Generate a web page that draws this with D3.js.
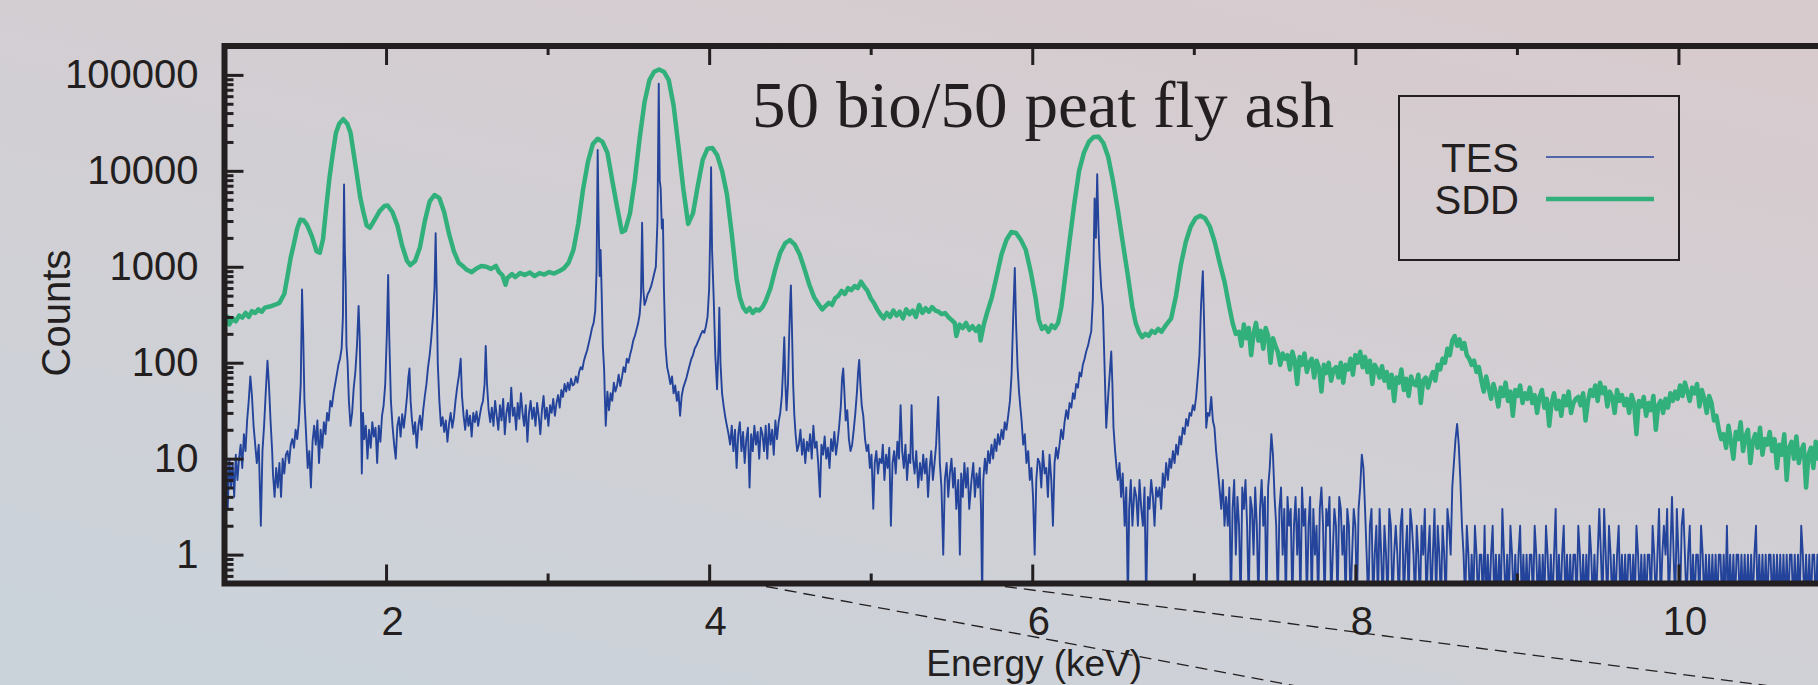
<!DOCTYPE html>
<html>
<head>
<meta charset="utf-8">
<script src="https://d3js.org/d3.v7.min.js"></script>
<style>
  body { margin: 0; overflow: hidden; }
</style>
</head>
<body>
<div id="chart"></div>
<script>

var width = 1818;
var height = 685;

// TES spectrum, [keV, counts]
var tesLow = [
  [1.000,6],[1.010,12],[1.020,3],[1.030,10],[1.040,5],[1.050,9],[1.060,4],[1.070,11],[1.080,6],[1.090,10],
  [1.100,14],[1.110,8],[1.120,18],[1.130,12],[1.140,25],[1.150,40],[1.160,72],[1.170,45],[1.180,22],[1.190,14],
  [1.200,9],[1.212,14],[1.225,2],[1.235,12],[1.245,22],[1.255,48],[1.266,105],[1.275,60],[1.285,25],[1.295,12],
  [1.300,7],[1.310,4],[1.320,8],[1.330,5],[1.340,9],[1.350,4],[1.360,10],[1.370,7],[1.380,11],[1.390,12],
  [1.400,9],[1.410,14],[1.420,16],[1.430,13],[1.440,20],[1.450,16],[1.460,24],[1.472,60],[1.480,580],[1.487,200],
  [1.495,40],[1.505,18],[1.515,8],[1.525,12],[1.535,5],[1.545,15],[1.555,22],[1.565,14],[1.575,25],[1.585,9],
  [1.595,20],[1.605,13],[1.615,24],[1.625,18],[1.635,30],[1.645,25],[1.655,40],[1.665,35],[1.675,48],[1.685,60],
  [1.695,75],[1.705,95],[1.715,110],[1.725,140],[1.733,300],[1.740,7200],[1.745,1500],[1.750,700],[1.755,150],[1.762,100],
  [1.770,40],[1.780,22],[1.790,30],[1.800,55],[1.810,80],[1.820,150],[1.830,390],[1.837,180],[1.843,50],[1.850,7],
  [1.857,30],[1.865,16],[1.875,22],[1.885,10],[1.895,20],[1.905,13],[1.915,24],[1.925,17],[1.935,21],[1.945,9],
  [1.955,22],[1.965,15],[1.975,28],[1.985,36],[1.995,60],[2.005,200],[2.013,820],[2.020,180],[2.030,40],[2.040,22],
  [2.050,14],[2.060,10],[2.070,22],[2.080,27],[2.090,17],[2.100,29],[2.110,21],[2.120,30],[2.130,45],[2.138,70],
  [2.145,87],[2.152,40],[2.160,26],[2.170,18],[2.180,24],[2.190,13],[2.200,22],[2.210,28],[2.220,20],[2.230,32],
  [2.240,45],[2.250,60],[2.260,90],[2.270,120],[2.280,180],[2.290,300],[2.300,600],[2.307,2240],[2.314,500],[2.320,100],
  [2.330,40],[2.340,22],[2.350,27],[2.360,19],[2.370,25],[2.380,15],[2.390,23],[2.400,30],[2.410,21],[2.420,27],
  [2.430,40],[2.440,55],[2.452,75],[2.462,110],[2.470,45],[2.480,28],[2.490,20],[2.500,32],[2.510,22],[2.520,28],
  [2.530,17],[2.540,30],[2.550,24],[2.560,31],[2.570,22],[2.580,28],[2.590,35],[2.600,40],[2.610,60],[2.617,150],
  [2.625,60],[2.635,32],[2.645,24],[2.655,34],[2.665,22],[2.675,40],[2.685,28],[2.695,20],[2.705,36],[2.715,25],
  [2.725,42],[2.735,18],[2.745,30],[2.755,38],[2.765,24],[2.775,55],[2.785,28],[2.795,34],[2.805,20],[2.815,38],
  [2.825,26],[2.835,48],[2.845,30],[2.855,22],[2.865,36],[2.875,15],[2.885,30],[2.895,40],[2.905,26],[2.915,34],
  [2.925,22],[2.935,38],[2.945,28],[2.955,18],[2.965,32],[2.975,45],[2.985,26],[2.995,34],[3.005,22],[3.015,36],
  [3.025,30],[3.035,42],[3.045,28],[3.055,38],[3.065,46],[3.075,34],[3.085,52],[3.095,44],[3.105,60],[3.115,50],
  [3.125,62],[3.135,52],[3.145,68],[3.155,58],[3.165,60],[3.175,72],[3.185,62],[3.195,80],[3.205,90],[3.215,85],
  [3.225,105],[3.235,120],[3.245,135],[3.255,160],[3.265,190],[3.275,230],[3.285,260],[3.295,350],[3.303,900],[3.310,16500],
  [3.316,3000],[3.322,800],[3.328,1500],[3.334,600],[3.342,150],[3.350,85],[3.355,40],[3.360,22],[3.370,50],[3.380,32],
  [3.390,48],[3.400,40],[3.410,62],[3.420,50],[3.430,58],[3.440,75],[3.450,57],[3.460,70],[3.470,90],[3.480,80],
  [3.490,110],[3.500,100],[3.510,120],[3.520,140],[3.530,170],[3.540,190],[3.550,220],[3.560,256],[3.570,320],[3.578,500],
  [3.585,2880],[3.592,600],[3.600,400],[3.610,450],[3.620,520],[3.630,560],[3.640,620],[3.650,720],[3.660,850],[3.670,1000],
  [3.680,3000],[3.688,80700],[3.694,8000],[3.700,6500],[3.707,2500],[3.714,3120],[3.720,600],[3.729,152],[3.740,90],[3.750,75],
  [3.760,60],[3.770,72],[3.780,48],[3.790,58],[3.800,40],[3.810,50],[3.820,28],[3.830,45],[3.840,55],[3.850,62],
  [3.860,70],[3.870,82],[3.880,95],[3.890,110],[3.900,120],[3.910,140],[3.920,150],[3.930,165],[3.940,180],[3.950,200],
  [3.960,215],[3.970,205],[3.980,240],[3.990,300],[4.000,590],[4.006,2000],[4.012,10900],[4.018,1500],[4.028,480],[4.038,120],
  [4.049,53],[4.058,150],[4.063,375],[4.070,100],[4.080,48],[4.090,35],[4.100,27],[4.110,22],[4.120,18],[4.130,14],
  [4.140,22],[4.150,12],[4.160,20],[4.170,8],[4.180,18],[4.190,24],[4.200,12],[4.210,19],[4.220,9],[4.230,16],
  [4.240,21],[4.250,5],[4.260,18],[4.270,12],[4.280,22],[4.290,14],[4.300,19],[4.310,10],[4.320,21],[4.330,18],
  [4.340,12],[4.350,22],[4.360,10],[4.370,23],[4.380,14],[4.390,20],[4.400,11],[4.410,25],[4.420,16],[4.430,24],
  [4.440,30],[4.450,45],[4.458,90],[4.465,184],[4.472,60],[4.479,32],[4.488,60],[4.495,180],[4.501,400],[4.506,640],
  [4.512,250],[4.520,60],[4.527,29],[4.535,18],[4.545,12],[4.555,14],[4.565,20],[4.575,11],[4.585,16],[4.595,9],
  [4.605,15],[4.615,12],[4.625,18],[4.635,10],[4.645,22],[4.655,13],[4.665,15],[4.675,9],[4.686,4],[4.695,14],
  [4.705,11],[4.715,17],[4.725,10],[4.735,13],[4.745,8],[4.755,16],[4.765,12],[4.775,19],[4.785,11],[4.795,15],
  [4.805,22],[4.815,35],[4.823,70],[4.830,87],[4.837,50],[4.845,25],[4.855,32],[4.865,16],[4.875,12],[4.885,14],
  [4.895,20],[4.905,30],[4.915,50],[4.922,80],[4.929,107],[4.936,60],[4.945,35],[4.954,28],[4.965,16],[4.975,12],
  [4.985,14],[4.995,8],[5.005,11],[5.016,3],[5.025,9],[5.035,12],[5.045,7],[5.055,10],[5.067,9],[5.075,14],
  [5.085,6],[5.095,11],[5.105,8],[5.115,13],[5.125,2],[5.135,9],[5.145,12],[5.155,7],[5.165,15],[5.175,10],
  [5.185,36],[5.195,12],[5.205,8],[5.215,14],[5.225,6],[5.235,11],[5.245,9],[5.253,36],[5.262,10],[5.272,7],
  [5.282,12],[5.294,5],[5.305,9],[5.315,6],[5.325,11],[5.335,7],[5.345,10],[5.355,4],[5.365,8],[5.375,12],
  [5.385,6],[5.395,9],[5.405,14],[5.418,44],[5.428,9],[5.438,5],[5.449,1],[5.459,6],[5.470,9],[5.480,4],
  [5.490,7],[5.500,10],[5.510,5],[5.520,8],[5.530,3],[5.542,6],[5.552,1],[5.560,7],[5.570,4],[5.580,9],
  [5.590,5],[5.600,8],[5.610,3],[5.624,6],[5.635,9],[5.645,4],[5.655,7],[5.665,5],[5.675,8],[5.683,3],
  [5.690,0],[5.697,6],[5.707,10],[5.717,7],[5.727,12],[5.737,9],[5.748,14],[5.758,10],[5.768,16],[5.778,12],
  [5.788,18],[5.798,14],[5.810,20],[5.820,16],[5.830,24],[5.840,20],[5.851,28],[5.862,40],[5.872,75],[5.882,300],
  [5.892,973],[5.900,250],[5.909,91],[5.918,50],[5.926,35],[5.934,25],[5.944,14],[5.954,18],[5.964,9],[5.975,12],
  [5.985,6],[5.995,8],[6.005,4],[6.015,1],[6.025,6],[6.035,10],[6.046,9],[6.056,5],[6.066,12],[6.077,7],
  [6.087,8],[6.097,4],[6.107,11],[6.118,6],[6.128,2],[6.138,9],[6.148,13],[6.158,10],[6.169,14],[6.179,20],
  [6.190,16],[6.200,24],[6.211,32],[6.221,26],[6.231,38],[6.242,34],[6.252,48],[6.262,42],[6.272,60],[6.283,55],
  [6.293,79],[6.303,72],[6.313,95],[6.324,110],[6.334,131],[6.345,150],[6.355,180],[6.365,211],[6.375,450],[6.386,5150],
  [6.394,2000],[6.402,9230],[6.410,2500],[6.417,1200],[6.427,600],[6.437,389],[6.447,100],[6.458,21],[6.468,40],[6.478,70],
  [6.489,131],[6.496,60],[6.503,21],[6.513,12],[6.522,8],[6.530,6],[6.540,9],[6.550,4],[6.560,7],[6.572,2],
  [6.582,5],[6.592,0],[6.600,3],[6.610,6],[6.620,2],[6.633,5],[6.644,4],[6.654,2],[6.664,6],[6.675,3],
  [6.685,2],[6.695,5],[6.705,0],[6.716,4],[6.726,3],[6.736,6],[6.747,4],[6.757,2],[6.767,5],[6.778,4],
  [6.788,5],[6.798,3],[6.808,7],[6.819,5],[6.829,9],[6.840,6],[6.850,10],[6.860,8],[6.871,12],[6.881,9],
  [6.891,14],[6.901,11],[6.912,17],[6.922,14],[6.932,21],[6.943,18],[6.953,26],[6.963,22],[6.974,30],[6.984,28],
  [6.994,36],[7.004,32],[7.015,45],[7.025,73],[7.035,120],[7.045,400],[7.056,900],[7.063,300],[7.070,80],[7.077,21],
  [7.087,30],[7.097,28],[7.108,44],[7.118,25],[7.128,21],[7.138,12],[7.148,8],[7.159,5],[7.170,3],[7.180,6],
  [7.190,2]
];

// TES from 7.2 keV on: counts per 10 eV channel
var tesHighStart = 7.2;
var tesHighStep = 0.01;
var tesHighCounts = [
  4,2,5,0,3,6,1,4,2,0,5,3,6,2,0,4,3,1,5,2,
  0,3,6,2,4,0,5,8,18,11,4,2,0,3,5,1,3,0,4,2,
  3,0,2,4,1,3,0,5,2,3,0,2,4,0,3,1,2,0,3,5,
  2,0,3,2,4,0,1,3,2,0,4,3,1,2,0,3,2,0,1,3,
  2,0,3,5,11,8,3,1,0,2,3,0,1,2,0,3,1,0,2,1,
  0,3,2,0,1,2,1,0,2,3,0,1,2,0,3,2,1,0,2,1,
  0,2,1,3,0,1,2,0,1,3,0,2,1,0,2,1,0,3,2,1,
  5,9,16,23,14,6,2,1,0,2,1,0,1,0,2,1,0,1,1,0,
  2,0,1,0,1,2,0,1,0,1,0,3,1,0,1,0,2,1,0,1,
  0,1,2,0,1,0,1,0,1,1,0,2,1,0,1,0,1,0,2,1,
  0,1,0,1,3,0,1,0,1,2,0,1,0,1,0,1,1,0,2,1,
  0,1,0,1,0,2,1,0,1,0,1,3,1,0,3,1,0,2,1,0,
  1,0,1,2,0,1,0,1,0,1,1,0,1,0,2,1,0,1,0,1,
  0,1,1,0,2,1,0,1,3,0,1,2,1,3,0,1,4,1,0,3,
  1,0,2,3,1,0,1,2,0,1,0,1,1,0,2,1,0,1,0,1,
  0,1,0,1,0,1,1,0,1,0,2,0,1,0,1,0,1,1,0,1,
  0,1,0,1,0,1,0,1,2,0,1,0,1,0,1,0,1,1,0,1,
  0,1,0,1,0,1,0,1,0,1,1,0,1,0,1,0,2,1,0,1,
  0,1,0,1,1,0,1,0,1,0,1,0,1,1,0,1,0,1,0,1,
  0
];

// SDD spectrum, [keV, counts]
var sddLow = [
  [1.00,260],[1.02,300],[1.03,250],[1.05,290],[1.07,270],[1.09,310],[1.11,295],[1.13,330],[1.15,300],[1.17,345],
  [1.19,330],[1.21,360],[1.23,340],[1.25,375],[1.28,385],[1.31,400],[1.34,420],[1.37,520],[1.39,800],[1.41,1250],
  [1.43,1750],[1.45,2500],[1.47,3100],[1.49,3050],[1.51,2750],[1.54,2100],[1.57,1450],[1.59,1400],[1.61,1950],[1.63,4200],
  [1.65,8500],[1.67,15000],[1.69,25000],[1.71,31000],[1.735,34500],[1.76,31000],[1.78,25000],[1.80,15000],[1.82,9000],[1.84,5300],
  [1.86,3700],[1.88,2700],[1.90,2550],[1.93,3100],[1.96,3800],[1.99,4300],[2.01,4350],[2.04,3700],[2.07,2700],[2.10,1650],
  [2.13,1150],[2.15,1040],[2.18,1150],[2.21,1600],[2.24,3000],[2.27,4800],[2.30,5600],[2.33,5200],[2.36,3700],[2.39,2200],
  [2.42,1450],[2.45,1100],[2.48,1000],[2.50,930],[2.53,880],[2.56,960],[2.59,1020],[2.62,1000],[2.65,950],[2.68,1020],
  [2.70,880],[2.72,820],[2.74,650],[2.75,760],[2.78,840],[2.80,780],[2.83,860],[2.86,820],[2.89,870],[2.92,800],
  [2.95,860],[2.98,830],[3.01,880],[3.04,850],[3.07,900],[3.10,960],[3.13,1100],[3.16,1500],[3.19,2800],[3.22,6500],
  [3.25,12500],[3.28,19000],[3.31,21600],[3.34,20000],[3.37,15500],[3.40,8000],[3.43,4200],[3.46,2300],[3.48,2400],[3.51,3600],
  [3.54,8000],[3.57,22000],[3.60,52000],[3.63,88000],[3.66,108000],[3.69,114000],[3.72,108000],[3.75,88000],[3.78,48000],[3.81,18000],
  [3.84,6500],[3.87,2800],[3.90,3600],[3.93,7000],[3.96,13000],[3.99,17000],[4.02,17300],[4.05,14500],[4.08,10000],[4.11,5700],
  [4.14,2200],[4.17,750],[4.19,480],[4.21,380],[4.23,340],[4.25,370],[4.27,330],[4.29,360],[4.31,350],[4.33,380],
  [4.35,440],[4.38,600],[4.41,950],[4.44,1400],[4.47,1750],[4.50,1900],[4.53,1700],[4.56,1350],[4.59,950],[4.62,650],
  [4.65,480],[4.68,400],[4.70,360],[4.72,390],[4.74,420],[4.76,400],[4.78,470],[4.80,500],[4.82,560],[4.84,520],
  [4.86,600],[4.88,570],[4.90,630],[4.92,600],[4.94,700],[4.96,620],[4.98,560],[5.00,470],[5.02,420],[5.04,360],
  [5.06,320],[5.08,290],[5.10,330],[5.12,300],[5.14,350],[5.16,310],[5.18,340],[5.20,290],[5.22,360],[5.24,320],
  [5.26,350],[5.28,300],[5.30,400],[5.32,330],[5.34,370],[5.36,340],[5.38,380],[5.40,350],[5.42,340],[5.44,320],
  [5.46,330],[5.48,300],[5.50,280],[5.52,260],[5.53,190],[5.55,250],[5.57,230],[5.59,260],[5.61,220],[5.63,240],
  [5.65,215],[5.67,240],[5.68,170],[5.70,250],[5.72,330],[5.75,480],[5.78,800],[5.81,1350],[5.84,1900],[5.87,2300],
  [5.90,2250],[5.93,1900],[5.96,1500],[5.99,900],[6.02,480],[6.04,280],[6.06,225],[6.08,240],[6.10,210],[6.12,245],
  [6.14,230],[6.16,260],[6.18,380],[6.20,700],[6.23,1800],[6.26,4500],[6.29,10000],[6.32,15500],[6.35,20000],[6.38,22500],
  [6.41,22700],[6.44,19500],[6.47,14000],[6.50,7800],[6.53,3900],[6.56,1800],[6.59,850],[6.62,380],[6.64,260],[6.66,210],
  [6.68,185],[6.70,200],[6.72,190],[6.74,215],[6.76,205],[6.78,225],[6.80,210],[6.83,250],[6.86,290],[6.89,500],
  [6.92,1050],[6.95,1800],[6.98,2600],[7.01,3200],[7.04,3400],[7.07,3200],[7.10,2600],[7.13,1800],[7.16,1100],[7.19,700],
  [7.22,380],[7.24,260],[7.26,200]
];

// SDD from 7.28 keV on: counts per 15 eV channel
var sddHighStart = 7.28;
var sddHighStep = 0.015;
var sddHighCounts = [
  210,150,250,180,230,120,200,260,170,215,140,230,190,100,180,150,130,95,125,110,
  120,85,130,105,60,115,95,125,80,100,110,70,105,88,50,95,78,100,65,85,
  90,70,100,62,95,85,110,75,120,100,130,90,115,80,105,60,95,85,70,92,
  65,80,55,75,40,70,62,85,52,68,45,72,60,58,75,38,65,70,55,68,
  80,65,95,85,110,100,140,120,170,190,150,175,140,160,120,110,95,105,80,90,
  65,50,72,55,42,60,48,35,55,45,62,40,50,28,52,45,58,38,48,42,
  55,38,46,30,44,52,34,42,22,38,48,33,40,28,45,36,50,30,38,42,
  44,36,48,25,40,52,45,58,40,62,48,55,35,50,44,30,52,40,46,36,
  42,30,46,38,18,40,35,44,28,38,32,45,20,36,40,30,42,34,48,40,
  50,42,58,45,62,50,40,55,48,60,35,52,42,30,45,38,25,28,20,16,
  18,13,22,15,10,19,16,24,12,17,20,9,15,18,13,21,11,16,14,19,
  12,16,8,14,11,18,6,13,15,10,17,9,12,14,5,11,13,8,15,10,
  11,7,13,4,10,8,12,6,9
];

var xTicks = [2, 4, 6, 8, 10];
var yTicks = [1, 10, 100, 1000, 10000, 100000];
var seriesNames = ["TES", "SDD"];
var seriesColors = ["#24449b", "#31b07b"];
var titleText = "50 bio/50 peat fly ash";

var tes = tesLow.concat(tesHighCounts.map((c, i) => [tesHighStart + i * tesHighStep, c]));
var sdd = sddLow.concat(sddHighCounts.map((c, i) => [sddHighStart + i * sddHighStep, c]));

var ink = "#231f20";
var sansFont = "'Liberation Sans', Arial, sans-serif";

var x = d3.scaleLinear().domain([1, 11]).range([224.5, 1840]);
var y = d3.scaleLog().domain([0.5, 2e5]).range([583.5, 46]);

var svg = d3.select("#chart").append("svg")
  .attr("width", width)
  .attr("height", height);

var defs = svg.append("defs");
var grad = defs.append("linearGradient")
  .attr("id", "bg")
  .attr("x1", "80%").attr("y1", "0%")
  .attr("x2", "20%").attr("y2", "100%");
grad.append("stop").attr("offset", "0%").attr("stop-color", "#d7cbce");
grad.append("stop").attr("offset", "100%").attr("stop-color", "#cbd3da");

defs.append("clipPath").attr("id", "plotClip")
  .append("rect")
  .attr("x", x(1))
  .attr("y", y(2e5))
  .attr("width", x(11) - x(1))
  .attr("height", y(0.5) - y(2e5));

svg.append("rect")
  .attr("width", width)
  .attr("height", height)
  .attr("fill", "url(#bg)");

// data
var line = d3.line()
  .x(d => x(d[0]))
  .y(d => y(Math.max(d[1], 0.3)));

var gData = svg.append("g").attr("clip-path", "url(#plotClip)");

gData.append("path")
  .datum(tes)
  .attr("fill", "none")
  .attr("stroke", seriesColors[0])
  .attr("stroke-width", 1.9)
  .attr("stroke-linejoin", "round")
  .attr("d", line);

gData.append("path")
  .datum(sdd)
  .attr("fill", "none")
  .attr("stroke", seriesColors[1])
  .attr("stroke-width", 4.5)
  .attr("stroke-linejoin", "round")
  .attr("d", line);

// axes
var yMinor = y.ticks().filter(v => yTicks.indexOf(v) < 0);
var xMinor = x.ticks(10).filter(v => xTicks.indexOf(v) < 0 && v > 1 && v < 11);

function styleAxis(g) {
  g.select(".domain").remove();
  g.attr("color", ink)
    .attr("font-family", sansFont)
    .attr("font-size", 40);
  g.selectAll("line").attr("stroke-width", 3);
}

svg.append("g")
  .attr("transform", `translate(${x(1)},0)`)
  .call(d3.axisLeft(y).tickValues(yTicks).tickSize(-19).tickPadding(26).tickFormat(d3.format("d")))
  .call(styleAxis);

svg.append("g")
  .attr("transform", `translate(${x(1)},0)`)
  .call(d3.axisLeft(y).tickValues(yMinor).tickSize(-9).tickFormat(""))
  .call(styleAxis);

svg.append("g")
  .attr("transform", `translate(0,${y(0.5)})`)
  .call(d3.axisBottom(x).tickValues(xTicks).tickSize(-19).tickPadding(23).tickFormat(d3.format("d")))
  .call(styleAxis)
  .call(g => g.selectAll("text").attr("dx", 6));

svg.append("g")
  .attr("transform", `translate(0,${y(0.5)})`)
  .call(d3.axisBottom(x).tickValues(xMinor).tickSize(-10).tickFormat(""))
  .call(styleAxis);

svg.append("g")
  .attr("transform", `translate(0,${y(2e5)})`)
  .call(d3.axisTop(x).tickValues(xTicks).tickSize(-19).tickFormat(""))
  .call(styleAxis);

svg.append("g")
  .attr("transform", `translate(0,${y(2e5)})`)
  .call(d3.axisTop(x).tickValues(xMinor).tickSize(-9).tickFormat(""))
  .call(styleAxis);

// frame
svg.append("rect")
  .attr("x", x(1))
  .attr("y", y(2e5))
  .attr("width", x(11) - x(1))
  .attr("height", y(0.5) - y(2e5))
  .attr("fill", "none")
  .attr("stroke", ink)
  .attr("stroke-width", 6);

// axis titles
svg.append("text")
  .attr("transform", "translate(70,313) rotate(-90)")
  .attr("text-anchor", "middle")
  .attr("font-family", sansFont)
  .attr("font-size", 40)
  .attr("fill", ink)
  .text("Counts");

svg.append("text")
  .attr("x", x(6) + 2)
  .attr("y", 676)
  .attr("text-anchor", "middle")
  .attr("font-family", sansFont)
  .attr("font-size", 37)
  .attr("fill", ink)
  .text("Energy (keV)");

// title
svg.append("text")
  .attr("x", 752)
  .attr("y", 127)
  .attr("font-family", "'Liberation Serif', 'DejaVu Serif', serif")
  .attr("font-size", 66)
  .attr("textLength", 582)
  .attr("lengthAdjust", "spacingAndGlyphs")
  .style("font-variant-numeric", "oldstyle-nums")
  .attr("fill", ink)
  .text(titleText);

// legend
var legend = svg.append("g");
legend.append("rect")
  .attr("x", 1399).attr("y", 96)
  .attr("width", 280).attr("height", 164)
  .attr("fill", "none")
  .attr("stroke", ink)
  .attr("stroke-width", 2);

var legendRows = legend.selectAll("g.row")
  .data(seriesNames)
  .join("g")
  .attr("class", "row")
  .attr("transform", (d, i) => `translate(0,${157 + i * 42})`);

legendRows.append("text")
  .attr("x", 1519)
  .attr("y", 14.5)
  .attr("text-anchor", "end")
  .attr("font-family", sansFont)
  .attr("font-size", 40)
  .attr("fill", ink)
  .text(d => d);

legendRows.append("line")
  .attr("x1", 1546).attr("x2", 1654)
  .attr("y1", 0).attr("y2", 0)
  .attr("stroke", (d, i) => seriesColors[i])
  .attr("stroke-width", (d, i) => i === 0 ? 1.6 : 4.5);

// dashed zoom guides below the frame
var guides = [[4.352, 0.1876], [5.831, 0.13]];
svg.append("g")
  .selectAll("line")
  .data(guides)
  .join("line")
  .attr("x1", d => x(d[0]))
  .attr("y1", y(0.5) + 3)
  .attr("x2", d => x(d[0]) + 140 / d[1])
  .attr("y2", y(0.5) + 3 + 140)
  .attr("stroke", ink)
  .attr("stroke-width", 1.3)
  .attr("stroke-dasharray", "12,7");

</script>
</body>
</html>
